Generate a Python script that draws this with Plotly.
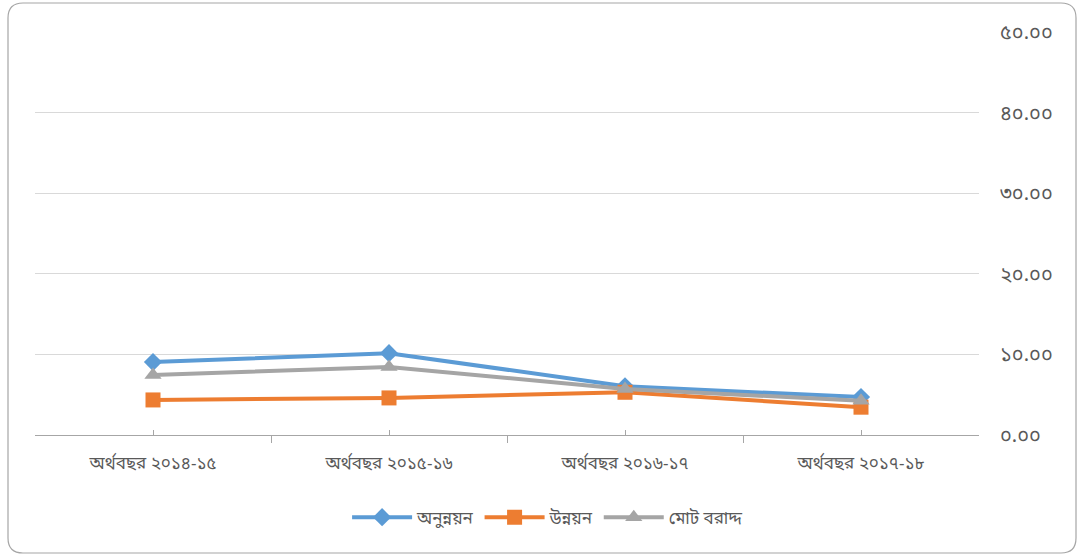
import plotly.graph_objects as go

# Fiscal years (Bengali)
years = ["অর্থবছর ২০১৪-১৫", "অর্থবছর ২০১৫-১৬", "অর্থবছর ২০১৬-১৭", "অর্থবছর ২০১৭-১৮"]

# Allocation share series
non_development = [9.05, 10.15, 6.05, 4.70]   # অনুন্নয়ন
development = [4.35, 4.60, 5.30, 3.45]        # উন্নয়ন
total_allocation = [7.45, 8.45, 5.70, 4.25]   # মোট বরাদ্দ

# Y-axis ticks written with Bengali digits
y_tickvals = [0, 10, 20, 30, 40, 50]
y_ticktext = ["০.০০", "১০.০০", "২০.০০", "৩০.০০", "৪০.০০", "৫০.০০"]

series_names = ["অনুন্নয়ন", "উন্নয়ন", "মোট বরাদ্দ"]
series_colors = ["#5B9BD5", "#ED7D31", "#A5A5A5"]
series_symbols = ["diamond", "square", "triangle-up"]
series_sizes = [14, 15, 15]

W, H = 1081, 556
ML, MR, MT, MB = 35, 102, 32, 121
PW, PH = W - ML - MR, H - MT - MB

x_idx = list(range(len(years)))

fig = go.Figure()
for name, vals, color, sym, size in zip(
    series_names, [non_development, development, total_allocation],
    series_colors, series_symbols, series_sizes
):
    fig.add_trace(go.Scatter(
        x=x_idx, y=vals, name=name, mode="lines+markers",
        line=dict(color=color, width=4),
        marker=dict(symbol=sym, size=size, color=color),
    ))


def px(x):
    return (x - ML) / PW


def py(y):
    return (H - MB - y) / PH


# Rounded chart border
x0, x1, y0, y1, r = 8, 1076, 3, 553, 15
path = (
    f"M {px(x0 + r)},{py(y0)} L {px(x1 - r)},{py(y0)} "
    f"Q {px(x1)},{py(y0)} {px(x1)},{py(y0 + r)} "
    f"L {px(x1)},{py(y1 - r)} Q {px(x1)},{py(y1)} {px(x1 - r)},{py(y1)} "
    f"L {px(x0 + r)},{py(y1)} Q {px(x0)},{py(y1)} {px(x0)},{py(y1 - r)} "
    f"L {px(x0)},{py(y0 + r)} Q {px(x0)},{py(y0)} {px(x0 + r)},{py(y0)} Z"
)
fig.add_shape(type="path", path=path, xref="paper", yref="paper",
              line=dict(color="#A6A6A6", width=1.2), layer="below")

font_family = "Noto Sans Bengali, Noto Sans, DejaVu Sans, sans-serif"

fig.update_layout(
    width=W, height=H,
    margin=dict(l=ML, r=MR, t=MT, b=MB),
    paper_bgcolor="white", plot_bgcolor="white",
    font=dict(family=font_family, color="#595959", size=14),
    showlegend=True,
    legend=dict(orientation="h", x=0.543, xanchor="center", y=-0.205,
                yanchor="middle", font=dict(size=17, color="#595959"),
                itemwidth=60, tracegroupgap=0),
    xaxis=dict(
        range=[-0.5, 3.5], tickmode="array", tickvals=x_idx, ticktext=years,
        showgrid=False, zeroline=False,
        showline=True, linecolor="#A6A6A6", linewidth=1.3,
        ticks="inside", ticklen=5, tickcolor="#A6A6A6", tickwidth=1.3,
        minor=dict(tick0=-0.5, dtick=1, ticks="outside", ticklen=7,
                   tickcolor="#A6A6A6", tickwidth=1.3, showgrid=False),
        tickfont=dict(size=17, color="#595959"),
        ticklabelstandoff=12,
    ),
    yaxis=dict(
        range=[0, 50], side="right", tickmode="array",
        tickvals=y_tickvals, ticktext=y_ticktext,
        showgrid=True, gridcolor="#D9D9D9", gridwidth=1,
        zeroline=False, showline=False, ticks="",
        tickfont=dict(size=20, color="#595959"),
        ticklabelstandoff=20,
    ),
)

fig.write_html("out.html")
